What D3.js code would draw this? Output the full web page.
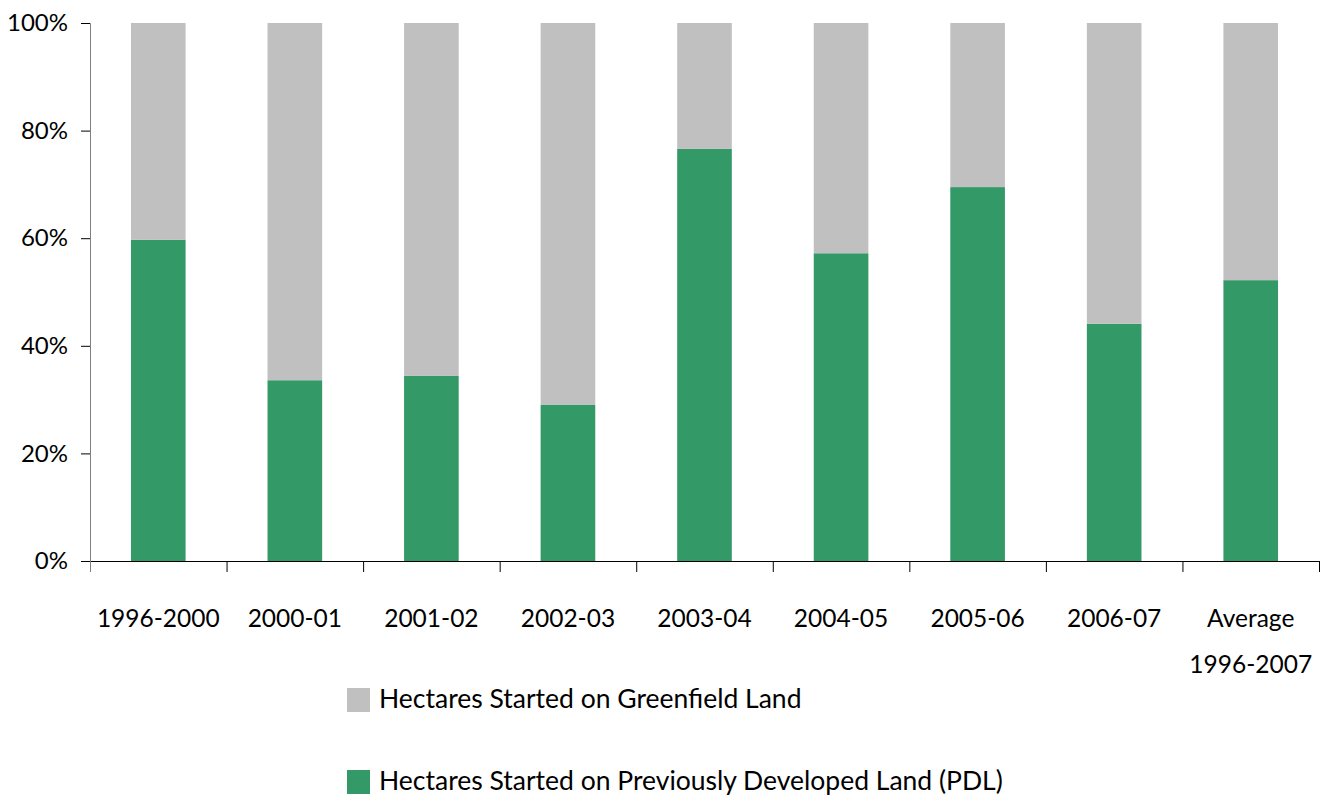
<!DOCTYPE html>
<html>
<head>
<meta charset="utf-8">
<script src="https://cdn.jsdelivr.net/npm/d3@7"></script>
<style>
  body { margin: 0; background: #fff; }
  svg text { font-family: Lato, "Open Sans", sans-serif; fill: #000; }
</style>
</head>
<body>
<div class="chart"></div>
<script>
var categories = ["1996-2000", "2000-01", "2001-02", "2002-03", "2003-04", "2004-05", "2005-06", "2006-07", "Average\n1996-2007"];
var pdlShare = [59.7, 33.6, 34.4, 29.0, 76.6, 57.2, 69.5, 44.1, 52.2];
var greenfieldShare = pdlShare.map(function(v){ return 100 - v; });
var yTicks = [0, 20, 40, 60, 80, 100];
var seriesNames = ["Hectares Started on Greenfield Land", "Hectares Started on Previously Developed Land (PDL)"];
var seriesColors = ["#c0c0c0", "#339966"];

var width = 1326, height = 798;
var plotLeft = 90, plotRight = 1319, plotTop = 23, plotBottom = 561;

var x = d3.scaleBand()
    .domain(categories)
    .range([plotLeft, plotRight])
    .paddingInner(0.6)
    .paddingOuter(0.3);

var y = d3.scaleLinear()
    .domain([0, 100])
    .range([plotBottom, plotTop]);

var svg = d3.select(".chart").append("svg")
    .attr("width", width)
    .attr("height", height);

var rows = categories.map(function(c, i){
    return {cat: c, pdl: pdlShare[i], green: greenfieldShare[i]};
});
var stack = d3.stack().keys(["pdl", "green"])(rows);

svg.append("g")
    .selectAll("g")
    .data(stack)
    .enter()
    .append("g")
    .attr("fill", function(d, i){ return i === 0 ? seriesColors[1] : seriesColors[0]; })
    .selectAll("rect")
    .data(function(d){ return d; })
    .enter()
    .append("rect")
    .attr("x", function(d){ return x(d.data.cat); })
    .attr("width", x.bandwidth())
    .attr("y", function(d){ return y(d[1]); })
    .attr("height", function(d){ return y(d[0]) - y(d[1]); });

// y axis
var yAxis = svg.append("g")
    .attr("transform", "translate(" + plotLeft + ",0)")
    .call(d3.axisLeft(y).tickValues(yTicks).tickSize(9).tickPadding(13)
        .tickFormat(function(d){ return d + "%"; }));
yAxis.select(".domain").attr("stroke", "#808080").attr("stroke-width", 1);
yAxis.selectAll(".tick line").attr("stroke", "#000");
yAxis.selectAll("text").style("font-size", "24px").attr("fill", "#000");

// x axis: ticks between categories
var boundaries = d3.range(categories.length + 1).map(function(i){
    return plotLeft + i * (plotRight - plotLeft) / categories.length;
});
svg.append("line")
    .attr("x1", plotLeft - 9).attr("x2", plotRight)
    .attr("y1", plotBottom + 0.5).attr("y2", plotBottom + 0.5)
    .attr("stroke", "#000");
svg.append("g")
    .selectAll("line")
    .data(boundaries)
    .enter()
    .append("line")
    .attr("x1", function(d){ return d + 0.5; })
    .attr("x2", function(d){ return d + 0.5; })
    .attr("y1", plotBottom)
    .attr("y2", plotBottom + 11)
    .attr("stroke", function(d, i){ return i === 0 ? "#808080" : "#000"; });

svg.append("g")
    .selectAll("text")
    .data(categories)
    .enter()
    .append("text")
    .attr("text-anchor", "middle")
    .style("font-size", "24.5px")
    .attr("x", function(d){ return x(d) + x.bandwidth() / 2; })
    .attr("y", 627)
    .each(function(d){
        var lines = d.split("\n");
        var t = d3.select(this);
        lines.forEach(function(l, i){
            t.append("tspan")
                .attr("x", x(d) + x.bandwidth() / 2)
                .attr("dy", i === 0 ? 0 : 46)
                .text(l);
        });
    });

// legend
var legend = svg.append("g")
    .selectAll("g")
    .data(seriesNames)
    .enter()
    .append("g")
    .attr("transform", function(d, i){ return "translate(347," + (688 + i * 82) + ")"; });
legend.append("rect")
    .attr("width", 23)
    .attr("height", 24)
    .attr("fill", function(d, i){ return seriesColors[i]; });
legend.append("text")
    .attr("x", 32)
    .attr("y", 20)
    .style("font-size", "26.5px")
    .text(function(d){ return d; });
</script>
</body>
</html>
